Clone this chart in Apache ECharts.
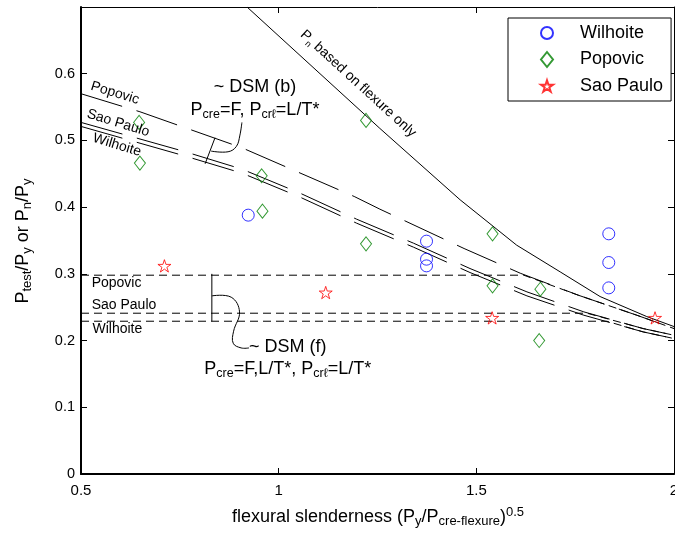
<!DOCTYPE html>
<html><head><meta charset="utf-8">
<script src="https://cdn.jsdelivr.net/npm/echarts@6/dist/echarts.min.js"></script>
<style>html,body{margin:0;padding:0;background:#fff}#c{width:675px;height:533px}</style>
</head><body><div id="c"></div>
<script>
// ---------- data ----------
const xTickLabels = ['0.5', '1', '1.5', '2'];
const yTickLabels = ['0', '0.1', '0.2', '0.3', '0.4', '0.5', '0.6'];

const wilhoiteX = [0.923, 1.374, 1.374, 1.374, 1.835, 1.835, 1.835];
const wilhoiteY = [0.388, 0.349, 0.322, 0.312, 0.360, 0.317, 0.279];
const popovicX = [0.647, 0.649, 0.957, 0.959, 1.221, 1.221, 1.541, 1.541, 1.662, 1.659];
const popovicY = [0.527, 0.466, 0.447, 0.394, 0.530, 0.345, 0.360, 0.282, 0.277, 0.200];
const saoPauloX = [0.711, 1.119, 1.540, 1.952];
const saoPauloY = [0.312, 0.272, 0.234, 0.234];

// Pn based on flexure only
const flexureX = [0.92, 1.256, 1.459, 1.602, 1.712, 1.813, 1.931, 2.0];
const flexureY = [0.70, 0.518, 0.411, 0.343, 0.303, 0.266, 0.236, 0.221];

// DSM (b) curves
const dsmBPopovicX = [0.5, 0.649, 0.907, 1.191, 1.256, 1.469, 1.611, 1.758, 1.906, 2.0];
const dsmBPopovicY = [0.570, 0.543, 0.489, 0.416, 0.397, 0.338, 0.301, 0.268, 0.238, 0.218];
const dsmBSaoPauloX = [0.5, 0.761, 0.907, 1.054, 1.197, 1.341, 1.484, 1.628, 1.772, 1.922, 2.0];
const dsmBSaoPauloY = [0.527, 0.4835, 0.457, 0.421, 0.382, 0.346, 0.308, 0.273, 0.243, 0.218, 0.208];
const dsmBWilhoiteX = [0.5, 0.761, 0.907, 1.054, 1.197, 1.341, 1.484, 1.628, 1.772, 1.922, 2.0];
const dsmBWilhoiteY = [0.521, 0.477, 0.451, 0.415, 0.376, 0.340, 0.302, 0.267, 0.238, 0.213, 0.203];

// DSM (f) curves
const dsmFPopovicX = [0.5, 1.62, 1.758, 1.906, 2.0];
const dsmFPopovicY = [0.298, 0.298, 0.268, 0.238, 0.218];
const dsmFSaoPauloX = [0.5, 1.78, 1.922, 2.0];
const dsmFSaoPauloY = [0.241, 0.241, 0.218, 0.208];
const dsmFWilhoiteX = [0.5, 1.83, 1.922, 2.0];
const dsmFWilhoiteY = [0.229, 0.229, 0.213, 0.203];

// ---------- helpers ----------
const zip = (xs, ys) => xs.map((x, i) => [x, ys[i]]);
const FONT = '"Liberation Sans", Arial, Helvetica, sans-serif';

function starPath() {
  let d = '';
  for (let i = 0; i < 10; i++) {
    const r = i % 2 === 0 ? 50 : 19.1;
    const a = -Math.PI / 2 + i * Math.PI / 5;
    d += (i === 0 ? 'M' : 'L') + (r * Math.cos(a)).toFixed(2) + ',' + (r * Math.sin(a)).toFixed(2) + ' ';
  }
  return 'path://' + d + 'Z';
}
const STAR = starPath();

const chart = echarts.init(document.getElementById('c'), null, {renderer: 'canvas'});

function axisX(pos, w, labels) {
  return {
    type: 'value', min: 0.5, max: 2, interval: 0.5, position: pos,
    axisLine: {show: true, onZero: false, lineStyle: {color: '#000', width: w}},
    axisTick: {show: true, inside: true, length: 6, lineStyle: {color: '#000', width: 1}},
    splitLine: {show: false},
    axisLabel: labels ? {show: true, margin: 9, color: '#000', fontSize: 15, fontFamily: FONT,
      formatter: v => xTickLabels[Math.round((v - 0.5) / 0.5)] || ''} : {show: false}
  };
}
function axisY(pos, w, labels) {
  return {
    type: 'value', min: 0, max: 0.7, interval: 0.1, position: pos,
    axisLine: {show: true, onZero: false, lineStyle: {color: '#000', width: w}},
    axisTick: {show: true, inside: true, length: 6, lineStyle: {color: '#000', width: 1}},
    splitLine: {show: false},
    axisLabel: labels ? {show: true, margin: 6, color: '#000', fontSize: 14.5, fontFamily: FONT,
      formatter: v => yTickLabels[Math.round(v / 0.1)] || ''} : {show: false}
  };
}

function lineSeries(name, xs, ys, type) {
  return {
    name: name, type: 'line', data: zip(xs, ys), symbol: 'none', silent: true,
    lineStyle: {color: '#000', width: 1, type: type}, z: 2, animation: false
  };
}
const LONG = [43, 15];
const SHORT = [8, 5];

const option = {
  backgroundColor: '#fff',
  animation: false,
  grid: {left: 81, right: 1, top: 7, bottom: 59, containLabel: false, outerBoundsMode: 'none'},
  xAxis: [axisX('bottom', 2, true), axisX('top', 1, false)],
  yAxis: [axisY('left', 2, true), axisY('right', 1, false)],
  legend: {
    orient: 'vertical', left: 508, top: 18,
    padding: [6, 8, 6, 32], itemWidth: 12, itemHeight: 15, itemGap: 8.5,
    backgroundColor: '#fff', borderColor: '#000', borderWidth: 1, borderRadius: 0,
    textStyle: {fontSize: 18, lineHeight: 18, color: '#000', fontFamily: FONT, padding: [0, 0, 0, 22]},
    data: ['Wilhoite', 'Popovic', 'Sao Paulo']
  },
  series: [
    lineSeries('flexure', flexureX, flexureY, 'solid'),
    lineSeries('dsmBPopovic', dsmBPopovicX, dsmBPopovicY, LONG),
    lineSeries('dsmBSaoPaulo', dsmBSaoPauloX, dsmBSaoPauloY, LONG),
    lineSeries('dsmBWilhoite', dsmBWilhoiteX, dsmBWilhoiteY, LONG),
    lineSeries('dsmFPopovic', dsmFPopovicX, dsmFPopovicY, SHORT),
    lineSeries('dsmFSaoPaulo', dsmFSaoPauloX, dsmFSaoPauloY, SHORT),
    lineSeries('dsmFWilhoite', dsmFWilhoiteX, dsmFWilhoiteY, SHORT),
    {
      name: 'Wilhoite', type: 'scatter', data: zip(wilhoiteX, wilhoiteY),
      symbol: 'circle', symbolSize: 12, z: 5,
      itemStyle: {color: 'rgba(255,255,255,0)', borderColor: '#0000ff', borderWidth: 1}
    },
    {
      name: 'Popovic', type: 'scatter', data: zip(popovicX, popovicY),
      symbol: 'diamond', symbolSize: [11, 14], z: 5,
      itemStyle: {color: 'rgba(255,255,255,0)', borderColor: '#008000', borderWidth: 1}
    },
    {
      name: 'Sao Paulo', type: 'scatter', data: zip(saoPauloX, saoPauloY),
      symbol: STAR, symbolSize: 13, symbolKeepAspect: true, z: 5,
      itemStyle: {color: 'rgba(255,255,255,0)', borderColor: '#ff0000', borderWidth: 1}
    }
  ]
};
chart.setOption(option);

// ---------- annotations (anchored in data coordinates) ----------
const P = (x, y) => chart.convertToPixel({xAxisIndex: 0, yAxisIndex: 0}, [x, y]);
const rich = {
  n: {fontSize: 18, fontFamily: FONT, color: '#000', lineHeight: 22, verticalAlign: 'middle'},
  s: {fontSize: 12.5, fontFamily: FONT, color: '#000', lineHeight: 12, verticalAlign: 'bottom'},
  m: {fontSize: 14, fontFamily: FONT, color: '#000', lineHeight: 18, verticalAlign: 'middle'},
  ms: {fontSize: 9, fontFamily: FONT, color: '#000', lineHeight: 9, verticalAlign: 'bottom'},
  t: {fontSize: 18, fontFamily: FONT, color: '#000', lineHeight: 22, verticalAlign: 'middle'},
  ts: {fontSize: 13, fontFamily: FONT, color: '#000', lineHeight: 12, verticalAlign: 'bottom'},
  tp: {fontSize: 13, fontFamily: FONT, color: '#000', lineHeight: 12, verticalAlign: 'top'}
};
function txt(pt, text, opts) {
  opts = opts || {};
  return {
    type: 'text', x: pt[0], y: pt[1], rotation: opts.rot || 0, z: 10, silent: true,
    style: {text: text, rich: rich, font: (opts.size || 14) + 'px ' + FONT, fill: '#000',
      align: opts.align || 'center', verticalAlign: 'middle'}
  };
}
function poly(pts, smooth) {
  return {
    type: 'polyline', z: 10, silent: true,
    shape: {points: pts.map(p => P(p[0], p[1])), smooth: smooth || 0},
    style: {stroke: '#000', lineWidth: 1, fill: null}
  };
}
const f0 = P(flexureX[0], flexureY[0]), f1 = P(flexureX[1], flexureY[1]);
const flexAngle = -Math.atan2(f1[1] - f0[1], f1[0] - f0[0]);
const b0 = P(dsmBPopovicX[0], dsmBPopovicY[0]), b1 = P(dsmBPopovicX[1], dsmBPopovicY[1]);
const bAngle = -Math.atan2(b1[1] - b0[1], b1[0] - b0[0]);

const graphics = [
  txt(P(0.586, 0.571), 'Popovic', {rot: bAngle}),
  txt(P(0.594, 0.526), 'Sao Paulo', {rot: bAngle}),
  txt(P(0.591, 0.493), 'Wilhoite', {rot: bAngle}),
  txt(P(0.940, 0.580), '~ DSM (b)', {size: 18}),
  txt(P(0.940, 0.545), '{n|P}{s|cre}{n|=F, P}{s|cr\u2113}{n|=L/T*}', {size: 18}),
  poly([[0.814, 0.465], [0.839, 0.504]]),
  poly([[0.829, 0.484], [0.872, 0.483], [0.893, 0.491], [0.902, 0.508], [0.907, 0.527]], 0.4),
  txt(P(0.527, 0.286), 'Popovic', {align: 'left'}),
  txt(P(0.527, 0.253), 'Sao Paulo', {align: 'left'}),
  txt(P(0.529, 0.217), 'Wilhoite', {align: 'left'}),
  poly([[0.831, 0.300], [0.831, 0.229]]),
  poly([[0.831, 0.267], [0.880, 0.265], [0.901, 0.243], [0.886, 0.214], [0.885, 0.196], [0.905, 0.189], [0.925, 0.189]], 0.4),
  txt(P(0.925, 0.190), '~ DSM (f)', {size: 18, align: 'left'}),
  txt(P(1.023, 0.158), '{n|P}{s|cre}{n|=F,L/T*, P}{s|cr\u2113}{n|=L/T*}', {size: 18}),
  txt(P(1.201, 0.585), '{m|P}{ms|n}{m| based on flexure only}', {rot: flexAngle}),
  // axis titles
  {
    type: 'text', x: 23, y: 241, rotation: Math.PI / 2, silent: true,
    style: {text: '{t|P}{ts|test}{t|/P}{ts|y}{t| or P}{ts|n}{t|/P}{ts|y}', rich: rich,
      font: '18px ' + FONT, align: 'center', verticalAlign: 'middle', fill: '#000'}
  },
  {
    type: 'text', x: 378, y: 517, silent: true,
    style: {text: '{t|flexural slenderness (P}{ts|y}{t|/P}{ts|cre-flexure}{t|)}{tp|0.5}', rich: rich,
      font: '18px ' + FONT, align: 'center', verticalAlign: 'middle', fill: '#000'}
  }
];
chart.setOption({graphic: graphics});
</script>
</body></html>
